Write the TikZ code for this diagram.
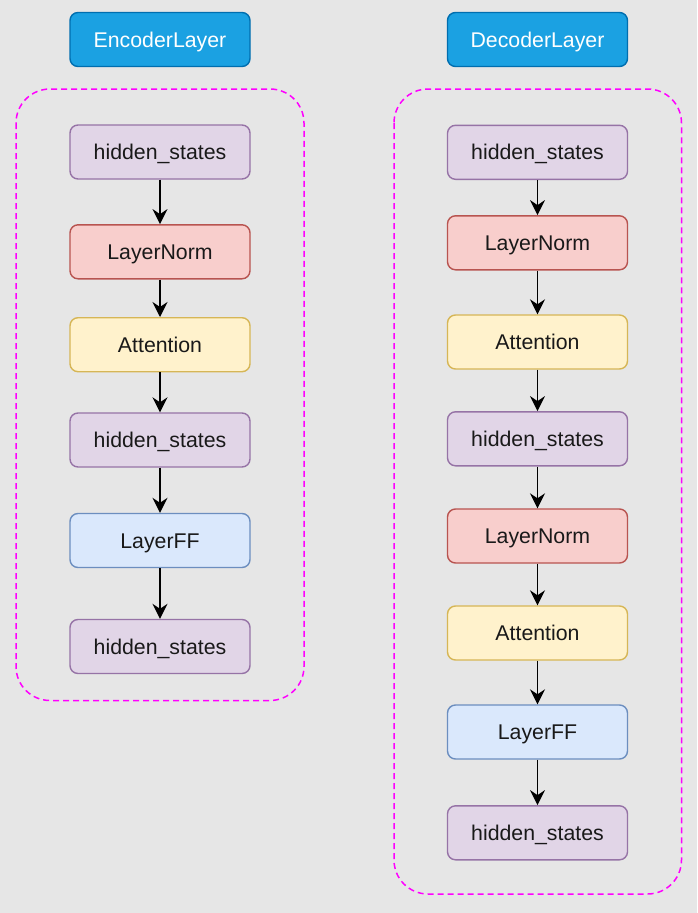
\documentclass[tikz,border=0pt]{standalone}
\usepackage{fontspec}
\setmainfont{Liberation Sans}
\usetikzlibrary{arrows.meta}
\definecolor{bg}{HTML}{E6E6E6}
\definecolor{purF}{HTML}{E1D5E7}\definecolor{purD}{HTML}{9673A6}
\definecolor{redF}{HTML}{F8CECC}\definecolor{redD}{HTML}{B85450}
\definecolor{yelF}{HTML}{FFF2CC}\definecolor{yelD}{HTML}{D6B656}
\definecolor{bluF}{HTML}{DAE8FC}\definecolor{bluD}{HTML}{6C8EBF}
\definecolor{titF}{HTML}{1BA1E2}\definecolor{titD}{HTML}{006EAF}
\definecolor{mag}{HTML}{FF00FF}
\tikzset{
  x=1pt, y=-1pt,
  box/.style={draw, line width=1.4pt, rounded corners=8pt, minimum width=180pt, minimum height=54pt, inner sep=0pt, font=\fontsize{21.3}{25}\selectfont, text=black!90, text depth=0pt, text height=15pt},
  hs/.style={box, fill=purF, draw=purD},
  ln/.style={box, fill=redF, draw=redD},
  att/.style={box, fill=yelF, draw=yelD},
  ff/.style={box, fill=bluF, draw=bluD},
  title/.style={box, fill=titF, draw=titD, text=white},
  container/.style={draw=mag, line width=1.5pt, dash pattern=on 6pt off 4pt, rounded corners=34pt},
  arr/.style={-{Stealth[length=15pt, width=15pt, inset=5pt]}, line width=1.5pt, black}
}
\begin{document}
\begin{tikzpicture}
\fill[bg] (0,0) rectangle (697,913);
\useasboundingbox (0,0) rectangle (697,913);
% containers
\draw[container] (16,89) rectangle (304,700.5);
\draw[container] (394,89) rectangle (681.5,894);
% titles
\node[title] (etitle) at (160,39.5) {EncoderLayer};
\node[title] (dtitle) at (537.5,39.5) {DecoderLayer};
% encoder
\node[hs]  (e1) at (160,152) {hidden\_states};
\node[ln]  (e2) at (160,251.8) {LayerNorm};
\node[att] (e3) at (160,344.7) {Attention};
\node[hs]  (e4) at (160,440) {hidden\_states};
\node[ff]  (e5) at (160,540.5) {LayerFF};
\node[hs]  (e6) at (160,646.5) {hidden\_states};
% decoder
\node[hs]  (d1) at (537.5,152.3) {hidden\_states};
\node[ln]  (d2) at (537.5,242.8) {LayerNorm};
\node[att] (d3) at (537.5,342) {Attention};
\node[hs]  (d4) at (537.5,438.8) {hidden\_states};
\node[ln]  (d5) at (537.5,536) {LayerNorm};
\node[att] (d6) at (537.5,633) {Attention};
\node[ff]  (d7) at (537.5,732) {LayerFF};
\node[hs]  (d8) at (537.5,832.8) {hidden\_states};
% arrows
\foreach \a/\b in {e1/e2,e2/e3,e3/e4,e4/e5,e5/e6,d1/d2,d2/d3,d3/d4,d4/d5,d5/d6,d6/d7,d7/d8}
  \draw[arr] (\a.south) -- (\b.north);
\end{tikzpicture}
\end{document}
